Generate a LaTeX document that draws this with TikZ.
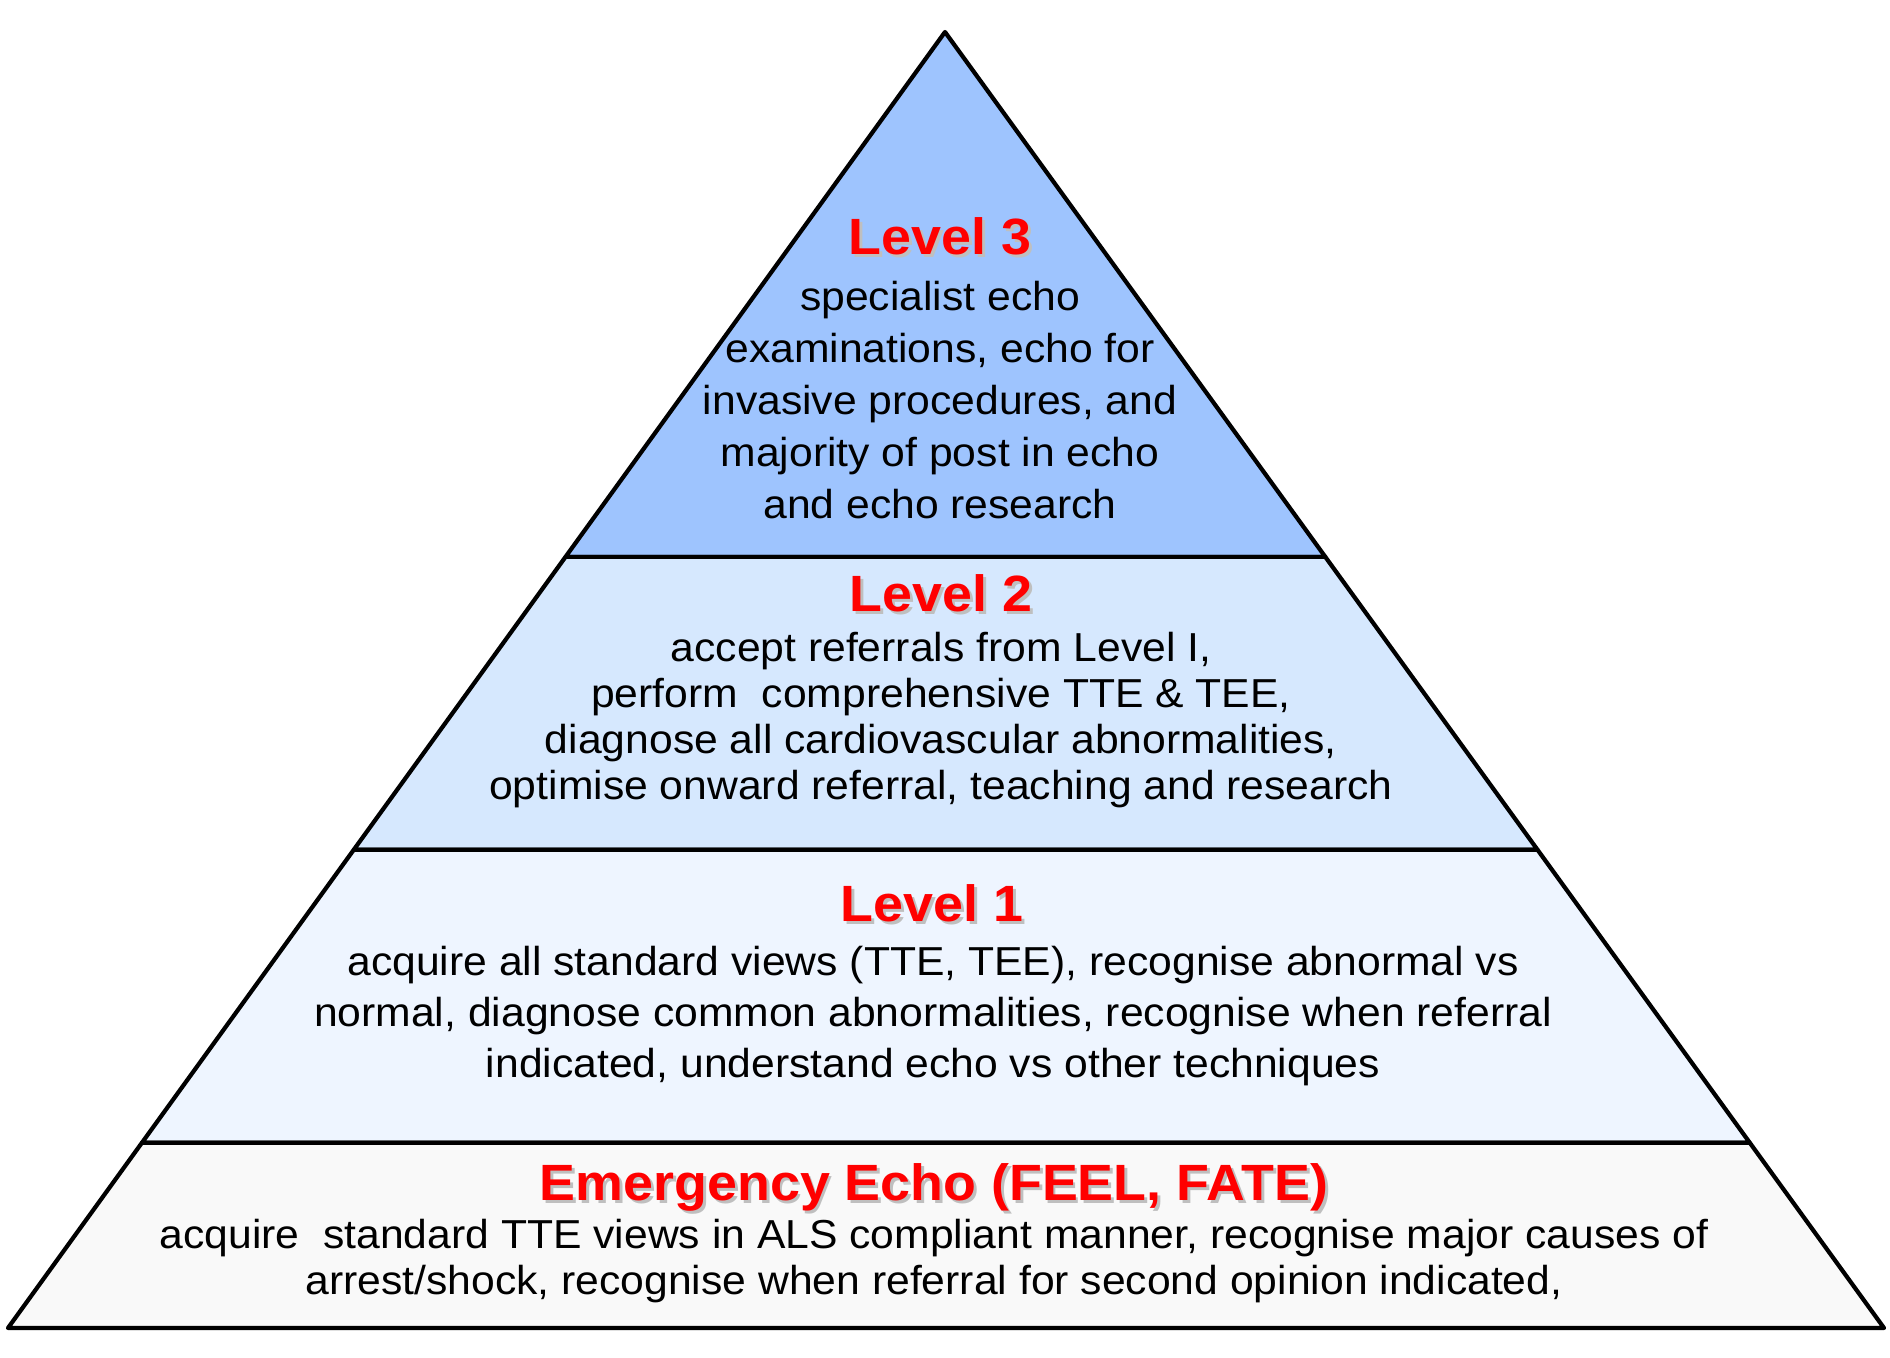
\documentclass[tikz,border=0pt]{standalone}
\usepackage{fontspec}
\setmainfont[FakeStretch=1.055]{Liberation Sans}
\usetikzlibrary{calc}

\definecolor{tierthree}{RGB}{158,196,254}
\definecolor{tiertwo}{RGB}{214,232,254}
\definecolor{tierone}{RGB}{238,245,255}
\definecolor{tierbase}{RGB}{249,249,249}

% red heading with a soft grey shadow
\newcommand{\lvltitle}[1]{\makebox[0pt][l]{\hspace{0.8pt}\raisebox{-0.8pt}{\color{gray!50}#1}}{\color{red}#1}}

\begin{document}
\begin{tikzpicture}[
    x=0.01cm, y=-0.01cm,
    band/.style={draw=black, line width=1.2pt, line join=round},
    title/.style={font=\fontsize{14.5}{17}\selectfont\bfseries, inner sep=0pt},
    body/.style={font=\fontsize{11.5}{14.6}\selectfont, align=center, inner sep=0pt}
  ]
  \useasboundingbox (0,0) rectangle (1890,1358);

  \coordinate (apex) at (945,32);
  \coordinate (bl) at (8,1328);
  \coordinate (br) at (1884,1328);

  % tier borders on the two sides
  \coordinate (l3) at ($(apex)!0.405!(bl)$);
  \coordinate (r3) at ($(apex)!0.405!(br)$);
  \coordinate (l2) at ($(apex)!0.631!(bl)$);
  \coordinate (r2) at ($(apex)!0.631!(br)$);
  \coordinate (l1) at ($(apex)!0.857!(bl)$);
  \coordinate (r1) at ($(apex)!0.857!(br)$);

  % Bands
  \draw[band, fill=tierthree] (apex) -- (r3) -- (l3) -- cycle;
  \draw[band, fill=tiertwo] (l3) -- (r3) -- (r2) -- (l2) -- cycle;
  \draw[band, fill=tierone] (l2) -- (r2) -- (r1) -- (l1) -- cycle;
  \draw[band, fill=tierbase] (l1) -- (r1) -- (br) -- (bl) -- cycle;

  % Level 3
  \node[title] (t3) at (940,238) {\lvltitle{Level 3}};
  \node[body, font=\fontsize{11.5}{14.8}\selectfont] (b3) at (940,400) {specialist echo\\examinations, echo for\\invasive procedures, and\\majority of post in echo\\and echo research};

  % Level 2
  \node[title] (t2) at (941,595) {\lvltitle{Level 2}};
  \node[body, font=\fontsize{11.5}{13.1}\selectfont] (b2) at (941,720) {accept referrals from Level I,\\perform~ comprehensive TTE \& TEE,\\diagnose all cardiovascular abnormalities,\\optimise onward referral, teaching and research};

  % Level 1
  \node[title] (t1) at (932,905) {\lvltitle{Level 1}};
  \node[body] (b1) at (933,1016) {acquire all standard views (TTE, TEE), recognise abnormal vs\\normal, diagnose common abnormalities, recognise when referral\\indicated, understand echo vs other techniques};

  % Emergency level
  \node[title] (t0) at (934,1189) {\lvltitle{Emergency Echo (FEEL, FATE)}};
  \node[body, font=\fontsize{11.5}{13.1}\selectfont] (b0) at (934,1261) {acquire~ standard TTE views in ALS compliant manner, recognise major causes of\\arrest/shock, recognise when referral for second opinion indicated,};
\end{tikzpicture}
\end{document}
